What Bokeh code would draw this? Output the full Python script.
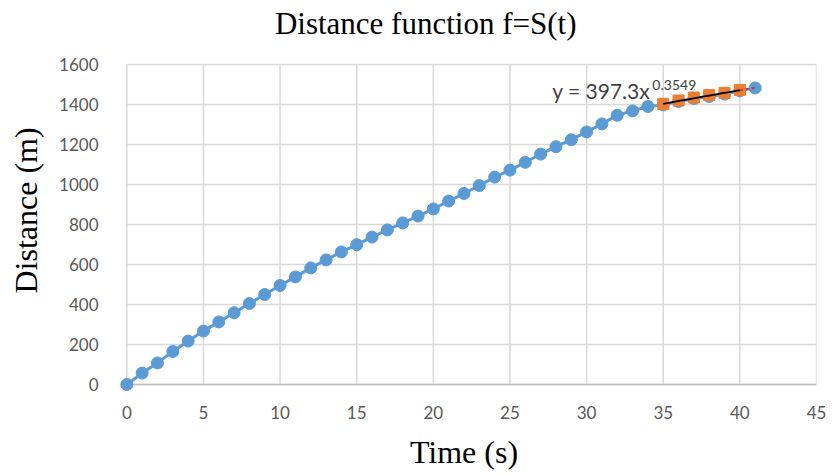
from bokeh.plotting import figure
from bokeh.models import Range1d, FixedTicker, Label
from bokeh.embed import file_html
from bokeh.resources import INLINE
import numpy as np

# Measured distance over time
time_s = list(range(0, 42))
distance_m = [0, 57, 108, 165, 217, 267, 313, 359, 405, 450,
              495, 538, 583, 623, 663, 699, 737, 773, 808, 842,
              878, 917, 955, 995, 1037, 1072, 1111, 1152, 1189, 1224,
              1263, 1303, 1346, 1368, 1390, 1398, 1415, 1430, 1440, 1452,
              1468, 1483]

# Final segment used for the power-law fit
fit_time = [35, 36, 37, 38, 39, 40]
fit_distance = [1403, 1420, 1435, 1447, 1458, 1473]

# Power trendline y = a * x^b
coef_a = 397.3
coef_b = 0.3549

x_ticks = [0, 5, 10, 15, 20, 25, 30, 35, 40, 45]
y_ticks = [0, 200, 400, 600, 800, 1000, 1200, 1400, 1600]

BLUE = "#5B9BD5"
ORANGE = "#ED7D31"
GRID = "#d9d9d9"
TICK = "#595959"
SANS = "Lato"
SERIF = "Liberation Serif"

# The frame runs to the top edge so the title can sit inside it; grid lines
# are drawn only over the 0-45 / 0-1600 data box. A little padding below/left
# of 0 keeps the first marker from being cut by the frame.
p = figure(width=833, height=475, output_backend="svg", toolbar_location=None,
           x_range=Range1d(-1, 45), y_range=Range1d(-60, 1920),
           min_border_left=111, min_border_right=17,
           min_border_top=0, min_border_bottom=79)

p.outline_line_color = None
p.grid.visible = False

for ax in (p.xaxis, p.yaxis):
    ax.axis_line_color = None
    ax.major_tick_line_color = None
    ax.minor_tick_line_color = None
    ax.major_label_text_font = SANS
    ax.major_label_text_font_size = "17px"
    ax.major_label_text_color = TICK

p.xaxis.ticker = FixedTicker(ticks=x_ticks)
p.yaxis.ticker = FixedTicker(ticks=y_ticks)
p.xaxis.major_label_standoff = 3
p.yaxis.major_label_standoff = 7

p.xaxis.axis_label = "Time (s)"
# trailing no-break spaces nudge the rotated label toward the data box centre
p.yaxis.axis_label = "Distance (m)\u00a0\u00a0\u00a0"
for ax in (p.xaxis, p.yaxis):
    ax.axis_label_text_font = SERIF
    ax.axis_label_text_font_style = "normal"
    ax.axis_label_text_color = "black"
p.xaxis.axis_label_text_font_size = "32px"
p.yaxis.axis_label_text_font_size = "32px"
p.xaxis.axis_label_standoff = 12
p.yaxis.axis_label_standoff = 12

# grid lines over the data box only
x_lo, x_hi = x_ticks[0], x_ticks[-1]
y_lo, y_hi = y_ticks[0], y_ticks[-1]
p.segment(x0=x_ticks, y0=[y_lo] * len(x_ticks), x1=x_ticks,
          y1=[y_hi] * len(x_ticks), line_color=GRID, line_width=1.5)
p.segment(x0=[x_lo] * len(y_ticks), y0=y_ticks, x1=[x_hi] * len(y_ticks),
          y1=y_ticks, line_color=GRID, line_width=1.5)

# bottom axis line in a slightly darker grey
p.line([x_lo, x_hi], [y_lo, y_lo], line_color="#bfbfbf", line_width=1.5)

# chart title above the data box
p.add_layout(Label(x=19.5, y=1805, text="Distance function f=S(t)",
                   text_font=SERIF, text_font_size="31px",
                   text_color="black", text_align="center",
                   text_baseline="alphabetic"))

# Distance series
p.line(time_s, distance_m, line_color=BLUE, line_width=3)
p.scatter(time_s, distance_m, size=12, marker="circle",
          fill_color=BLUE, line_color=BLUE)

# Fitted segment
p.scatter(fit_time, fit_distance, size=11, marker="square",
          fill_color=ORANGE, line_color=ORANGE)

# Trendline over the fitted range, with a short forward projection
tx = np.linspace(fit_time[0], fit_time[-1], 30)
p.line(tx, coef_a * tx ** coef_b, line_color="black", line_width=1.8)
fx = np.linspace(fit_time[-1], time_s[-1], 10)
p.line(fx, coef_a * fx ** coef_b, line_color="#e02020", line_width=1.5,
       line_dash="3 3")

p.add_layout(Label(x=27.76, y=1468, text=f"y = {coef_a}x", text_font=SANS,
                   text_font_size="21px", text_color="#404040",
                   text_baseline="alphabetic"))
p.add_layout(Label(x=34.29, y=1500, text=f"{coef_b}", text_font=SANS,
                   text_font_size="14px", text_color="#404040",
                   text_baseline="alphabetic"))

open("out.html", "w").write(file_html(p, INLINE))
